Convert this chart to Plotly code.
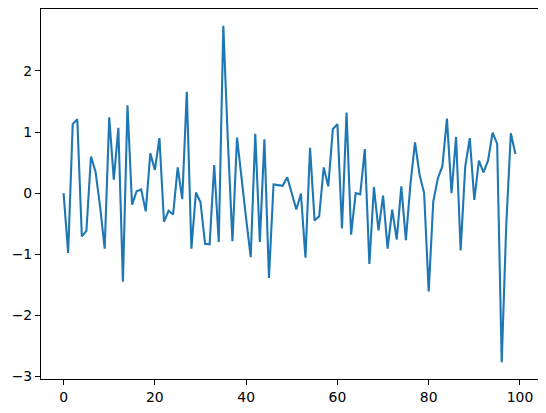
import plotly.graph_objects as go

# values, index 0..99
steps = list(range(100))
values = [
    0.00, -0.98, 1.13, 1.21, -0.71, -0.62, 0.60, 0.35, -0.22, -0.91,
    1.24, 0.22, 1.07, -1.45, 1.44, -0.19, 0.03, 0.06, -0.30, 0.65,
    0.38, 0.90, -0.47, -0.29, -0.35, 0.42, -0.10, 1.66, -0.91, 0.01,
    -0.15, -0.83, -0.84, 0.46, -0.80, 2.74, 0.85, -0.79, 0.91, 0.20,
    -0.42, -1.05, 0.97, -0.80, 0.88, -1.39, 0.14, 0.13, 0.12, 0.26,
    0.00, -0.27, -0.01, -1.06, 0.74, -0.45, -0.38, 0.42, 0.11, 1.05,
    1.13, -0.58, 1.32, -0.68, 0.00, -0.02, 0.72, -1.16, 0.10, -0.61,
    -0.04, -0.91, -0.27, -0.76, 0.11, -0.77, 0.15, 0.83, 0.30, 0.00,
    -1.61, -0.14, 0.24, 0.44, 1.22, 0.00, 0.92, -0.94, 0.43, 0.90,
    -0.11, 0.53, 0.34, 0.53, 0.99, 0.81, -2.77, -0.51, 0.98, 0.64,
]
x_ticks = [0, 20, 40, 60, 80, 100]
y_ticks = [-3, -2, -1, 0, 1, 2]

def padded(lo, hi, frac=0.05):
    span = hi - lo
    return [lo - frac * span, hi + frac * span]

fig = go.Figure()
fig.add_trace(go.Scatter(
    x=steps,
    y=values,
    mode="lines",
    line=dict(color="#1f77b4", width=2.1),
    showlegend=False))

axis_style = dict(
    showgrid=False,
    zeroline=False,
    showline=True,
    linecolor="black",
    linewidth=1.1,
    mirror=True,
    ticks="outside",
    ticklen=5,
    tickwidth=1.1,
    tickcolor="black",
    tickfont=dict(family="DejaVu Sans", size=13.9, color="black"),
)
fig.update_xaxes(range=padded(min(steps), max(steps)), tickvals=x_ticks, **axis_style)
fig.update_yaxes(range=padded(min(values), max(values)), tickvals=y_ticks, **axis_style)
# the page body adds ~8px around the figure, so size/margins account for it
fig.update_layout(
    width=538,
    height=405,
    margin=dict(l=33, r=8, t=1, b=34),
    plot_bgcolor="white",
    paper_bgcolor="white",
)
fig.write_html("out.html")
